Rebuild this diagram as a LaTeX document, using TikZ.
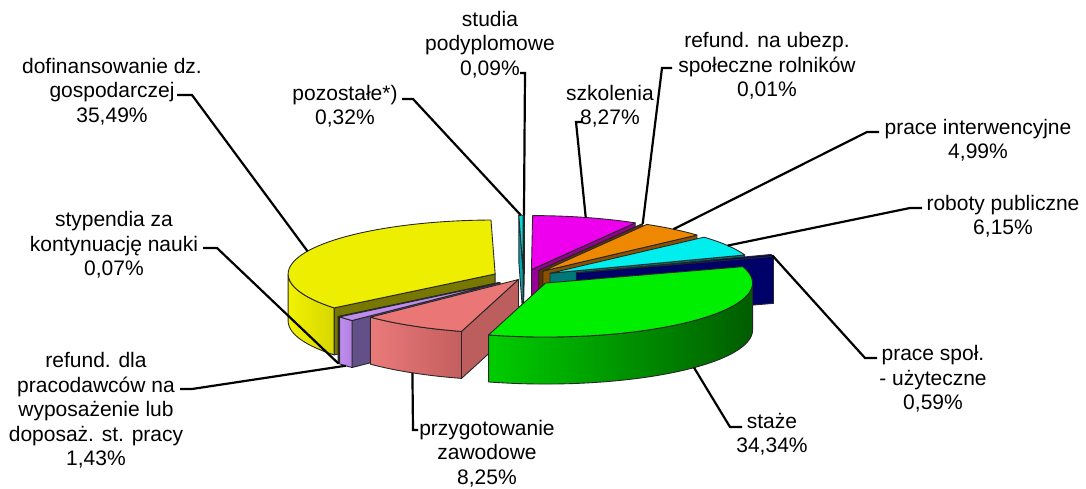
\documentclass[tikz,border=0pt]{standalone}
\usepackage{fontspec}
\setmainfont{Liberation Sans}
\definecolor{yeT}{RGB}{238,238,0}
\definecolor{yeS1}{RGB}{242,242,0}
\definecolor{yeS2}{RGB}{215,215,0}
\definecolor{yeD}{RGB}{120,120,0}
\definecolor{saT}{RGB}{234,118,118}
\definecolor{saS1}{RGB}{234,122,122}
\definecolor{saS2}{RGB}{196,94,94}
\definecolor{saD}{RGB}{188,94,94}
\definecolor{laT}{RGB}{190,140,236}
\definecolor{laS1}{RGB}{192,142,238}
\definecolor{laS2}{RGB}{178,128,224}
\definecolor{laD}{RGB}{100,80,136}
\definecolor{grT}{RGB}{0,238,0}
\definecolor{grS1}{RGB}{0,205,0}
\definecolor{grS2}{RGB}{0,92,0}
\definecolor{maT}{RGB}{238,0,238}
\definecolor{maD}{RGB}{150,0,150}
\definecolor{orT}{RGB}{238,136,0}
\definecolor{orD}{RGB}{140,80,0}
\definecolor{cyT}{RGB}{0,238,238}
\definecolor{cyD}{RGB}{0,120,120}
\definecolor{blT}{RGB}{0,0,110}
\definecolor{blD}{RGB}{0,0,105}
\definecolor{brT}{RGB}{153,80,0}
\definecolor{brD}{RGB}{100,50,0}
\definecolor{stT}{RGB}{0,210,210}
\definecolor{stD}{RGB}{0,150,150}
\definecolor{poT}{RGB}{0,220,220}
\definecolor{poD}{RGB}{0,170,180}
\definecolor{tyT}{RGB}{150,150,255}
\definecolor{tyD}{RGB}{90,90,160}
\def\Ox{523.3}\def\Oy{277.4}\def\Ra{207}\def\Rb{54}\def\Hh{47}
\newcommand\setslice[3]{%
  \pgfmathsetmacro\sA{#1}\pgfmathsetmacro\sB{#2}%
  \pgfmathsetmacro\sM{(#1+#2)/2}%
  \pgfmathsetmacro\sX{\Ox+#3*\Ra*sin(\sM)}%
  \pgfmathsetmacro\sY{\Oy-#3*\Rb*cos(\sM)}}
\newcommand\topface[1]{%
  \filldraw[fill=#1, pieedge] (\sX,\sY) -- plot[domain=\sA:\sB, samples=50] ({\sX+\Ra*sin(\x)},{\sY-\Rb*cos(\x)}) -- cycle;}
\newcommand\cutface[2]{%
  \filldraw[fill=#2, pieedge] (\sX,\sY) -- ({\sX+\Ra*sin(#1)},{\sY-\Rb*cos(#1)}) -- ({\sX+\Ra*sin(#1)},{\sY-\Rb*cos(#1)+\Hh}) -- (\sX,{\sY+\Hh}) -- cycle;}
\newcommand\sideface[4]{%
  \path[pieedge, left color=#3, right color=#4] plot[domain=#1:#2, samples=50] ({\sX+\Ra*sin(\x)},{\sY-\Rb*cos(\x)}) -- plot[domain=#2:#1, samples=50] ({\sX+\Ra*sin(\x)},{\sY-\Rb*cos(\x)+\Hh}) -- cycle;}
\newcommand\rimtop[1]{\coordinate (#1) at ({\sX+\Ra*sin(\sM)},{\sY-\Rb*cos(\sM)});}
\newcommand\rimbot[1]{\coordinate (#1) at ({\sX+\Ra*sin(\sM)},{\sY-\Rb*cos(\sM)+\Hh});}
\begin{document}
\begin{tikzpicture}[x=0.02cm,y=-0.02cm,
  pieedge/.style={draw=black!85, line width=0.5pt, line join=round},
  leaderln/.style={draw=black, line width=1.25pt, line join=miter},
  lbl/.style={align=center, inner sep=0pt, font=\fontsize{11.95}{13.9}\selectfont}]
\fill[white] (0,0) rectangle (1086,489);
\useasboundingbox (0,0) rectangle (1086,489);
% back slices
\setslice{0}{0.324}{0.15}
\cutface{\sB}{stD}\topface{stT}\rimtop{rStu}
\setslice{358.848}{360}{0.15}
\cutface{\sA}{poD}\topface{poT}\rimtop{rPoz}
\setslice{0.324}{30.096}{0.15}
\cutface{\sB}{maD}\topface{maT}\rimtop{rSzk}
\setslice{30.096}{30.132}{0.15}
\cutface{\sB}{brD}\topface{brT}\rimtop{rUbe}
\setslice{30.132}{48.096}{0.15}
\cutface{\sB}{orD}\topface{orT}\rimtop{rInt}
\setslice{48.096}{70.236}{0.15}
\cutface{\sB}{cyD}\topface{cyT}\rimtop{rRob}
\setslice{70.236}{72.36}{0.27}
\cutface{\sB}{blD}\topface{blT}\rimtop{rSpo}
% left slices
\setslice{231.084}{358.848}{0.15}
\cutface{\sA}{yeD}\sideface{\sA}{270}{yeS1}{yeS2}\topface{yeT}\rimtop{rDof}
\setslice{230.832}{231.084}{0.15}
\cutface{\sA}{tyD}\sideface{\sA}{\sB}{tyT}{tyT}\topface{tyT}\rimbot{rSty}
\setslice{225.684}{230.832}{0.15}
\cutface{\sA}{laD}\sideface{\sA}{\sB}{laS1}{laS2}\topface{laT}\rimbot{rRef}
\setslice{195.984}{225.684}{0.045}
\cutface{\sA}{saD}\sideface{\sA}{\sB}{saS1}{saS2}\topface{saT}\rimbot{rPrz}
% front slice
\setslice{72.36}{195.984}{0.15}
\sideface{90}{\sB}{grS1}{grS2}\topface{grT}\rimbot{rSta}
% labels
\node[lbl] (lDof) at (112,91.5) {dofinansowanie dz.\\gospodarczej\\35,49\%};
\node[lbl] (lPoz) at (345,106.5) {pozostałe*)\\0,32\%};
\node[lbl] (lStu) at (490,44.5) {studia\\podyplomowe\\0,09\%};
\node[lbl] (lSzk) at (610,106.5) {szkolenia\\8,27\%};
\node[lbl] (lUbe) at (767,66) {refund. na ubezp.\\społeczne rolników\\0,01\%};
\node[lbl] (lInt) at (978,140.5) {prace interwencyjne\\4,99\%};
\node[lbl] (lRob) at (1003,216.5) {roboty publiczne\\6,15\%};
\node[lbl] (lSpo) at (933,379) {prace społ.\\- użyteczne\\0,59\%};
\node[lbl] (lSta) at (772,434) {staże\\34,34\%};
\node[lbl] (lPrz) at (487,453.5) {przygotowanie\\zawodowe\\8,25\%};
\node[lbl] (lSty) at (114,245) {stypendia za\\kontynuację nauki\\0,07\%};
\node[lbl] (lRef) at (96,410.5) {refund. dla\\pracodawców na\\wyposażenie lub\\doposaż. st. pracy\\1,43\%};
% leader start points
\coordinate (tDof) at (177,95);
\coordinate (tPoz) at (402,99);
\coordinate (tStu) at (520,73);
\coordinate (tSzk) at (582,122);
\coordinate (tUbe) at (672,68);
\coordinate (tInt) at (879,132);
\coordinate (tRob) at (922,208);
\coordinate (tSpo) at (877,358);
\coordinate (tSta) at (742,427);
\coordinate (tPrz) at (418,430);
\coordinate (tSty) at (203,248);
\coordinate (tRef) at (180,389);
\draw[leaderln] (tDof) -- ++(15,0) -- (rDof);
\draw[leaderln] (tPoz) -- ++(11,0) -- (rPoz);
\draw[leaderln] (tStu) -- ++(5,0) -- (rStu);
\draw[leaderln] (tSzk) -- ++(-6,0) -- (rSzk);
\draw[leaderln] (tUbe) -- ++(-10,0) -- (rUbe);
\draw[leaderln] (tInt) -- ++(-12,0) -- (rInt);
\draw[leaderln] (tRob) -- ++(-12,0) -- (rRob);
\draw[leaderln] (tSpo) -- ++(-12,0) -- (rSpo);
\draw[leaderln] (tSta) -- ++(-12,0) -- (rSta);
\draw[leaderln] (tPrz) -- ++(-5,0) -- (rPrz);
\draw[leaderln] (tSty) -- ++(14,0) -- (rSty);
\draw[leaderln] (tRef) -- ++(12,0) -- (rRef);
\end{tikzpicture}
\end{document}
